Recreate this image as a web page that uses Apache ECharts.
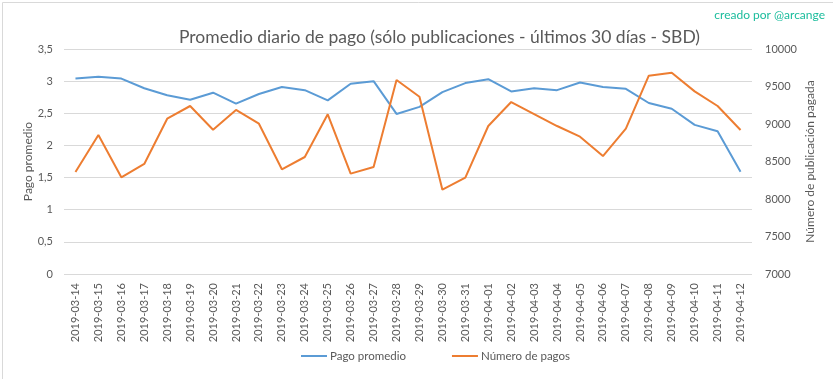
<!DOCTYPE html>
<html><head><meta charset="utf-8">
<script src="https://cdn.jsdelivr.net/npm/echarts@6/dist/echarts.min.js"></script>
<style>html,body{margin:0;padding:0;background:#fff}#c{width:833px;height:379px}</style>
</head><body><div id="c"></div>
<script>
const categories = ["2019-03-14","2019-03-15","2019-03-16","2019-03-17","2019-03-18","2019-03-19","2019-03-20","2019-03-21","2019-03-22","2019-03-23","2019-03-24","2019-03-25","2019-03-26","2019-03-27","2019-03-28","2019-03-29","2019-03-30","2019-03-31","2019-04-01","2019-04-02","2019-04-03","2019-04-04","2019-04-05","2019-04-06","2019-04-07","2019-04-08","2019-04-09","2019-04-10","2019-04-11","2019-04-12"];
const pagoPromedio = [3.04,3.07,3.04,2.89,2.78,2.71,2.82,2.65,2.80,2.91,2.86,2.70,2.96,3.00,2.49,2.60,2.83,2.97,3.03,2.84,2.89,2.86,2.98,2.91,2.88,2.66,2.57,2.32,2.22,1.59];
const numeroPagos = [8360,8853,8289,8467,9071,9240,8924,9187,9004,8396,8560,9129,8338,8427,9587,9364,8124,8284,8973,9293,9133,8973,8831,8573,8938,9644,9684,9435,9240,8920];
const leftTicks = {min:0,max:3.5,interval:0.5};
const rightTicks = {min:7000,max:10000,interval:500};

const FONT = 'Lato';
const txt = '#595959';
const chart = echarts.init(document.getElementById('c'));
chart.setOption({
  animation:false,
  textStyle:{fontFamily:FONT},
  title:{text:'Promedio diario de pago (sólo publicaciones - últimos 30 días - SBD)',left:174,top:23,
    textStyle:{fontFamily:FONT,fontSize:17.5,fontWeight:'normal',color:txt}},
  graphic:[
    {type:'rect',left:0,top:0,shape:{x:0,y:0,width:832,height:378},style:{fill:'none',stroke:'#d9d9d9',lineWidth:1}},
    {type:'text',right:8,top:9,style:{text:'creado por @arcange',fill:'#1abc9c',font:'12px '+FONT}}
  ],
  legend:{bottom:12,left:296,itemWidth:26,itemHeight:2,itemGap:46,icon:'rect',
    textStyle:{fontFamily:FONT,fontSize:11.5,color:txt,padding:[0,0,0,-2]},data:['Pago promedio','Número de pagos']},
  grid:{left:64,right:81,top:49,bottom:105,containLabel:false},
  xAxis:{type:'category',data:categories,boundaryGap:true,
    axisLine:{show:false},axisTick:{show:false},
    axisLabel:{rotate:90,interval:0,fontSize:11,color:txt,margin:9,fontFamily:FONT}},
  yAxis:[
    {type:'value',min:leftTicks.min,max:leftTicks.max,interval:leftTicks.interval,
     name:'Pago promedio',nameLocation:'middle',nameGap:30,nameRotate:90,nameMoveOverlap:false,
     nameTextStyle:{fontSize:12,color:txt,fontFamily:FONT},
     axisLabel:{fontSize:11,color:txt,margin:11,formatter:v=>String(v).replace('.',',')},
     splitLine:{lineStyle:{color:'#d9d9d9'}},axisLine:{show:false},axisTick:{show:false}},
    {type:'value',min:rightTicks.min,max:rightTicks.max,interval:rightTicks.interval,position:'right',
     name:'Número de publicación pagada',nameLocation:'middle',nameGap:52,nameRotate:90,nameMoveOverlap:false,
     nameTextStyle:{fontSize:12,color:txt,fontFamily:FONT},
     axisLabel:{fontSize:11,color:txt,margin:13,formatter:v=>String(v)},
     splitLine:{show:false},axisLine:{show:false},axisTick:{show:false}}
  ],
  series:[
    {name:'Pago promedio',type:'line',yAxisIndex:0,data:pagoPromedio,symbol:'none',
     lineStyle:{color:'#5b9bd5',width:2},itemStyle:{color:'#5b9bd5'}},
    {name:'Número de pagos',type:'line',yAxisIndex:1,data:numeroPagos,symbol:'none',
     lineStyle:{color:'#ed7d31',width:2},itemStyle:{color:'#ed7d31'}}
  ]
});
</script></body></html>
